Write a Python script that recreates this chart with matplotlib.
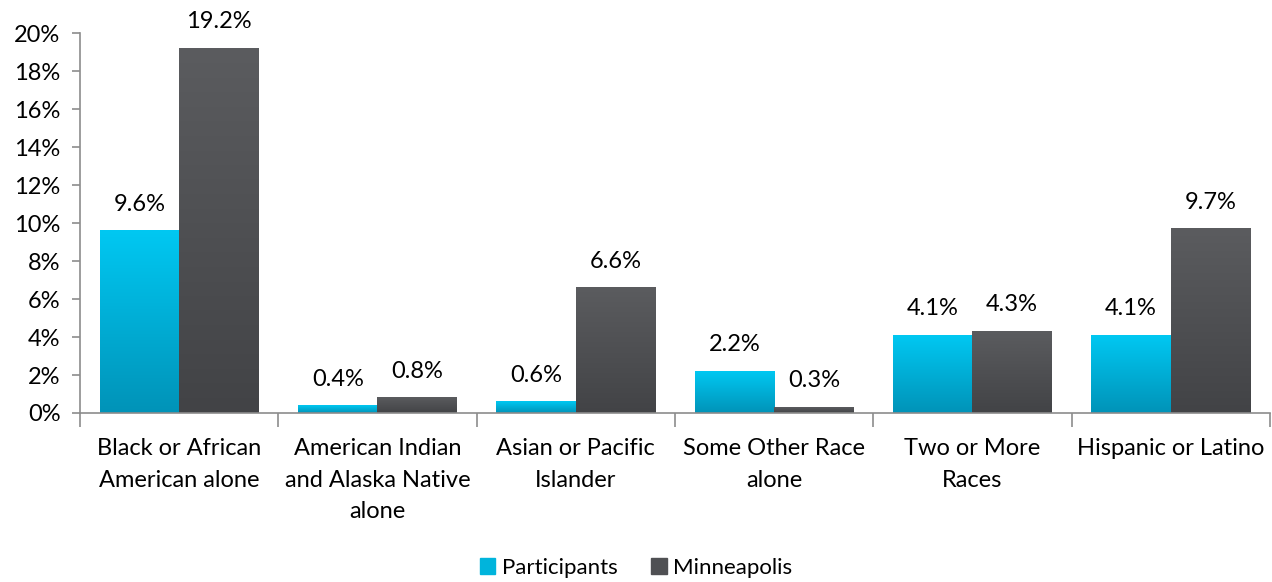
import matplotlib
matplotlib.use("Agg")
import matplotlib.pyplot as plt
import numpy as np
from matplotlib.colors import LinearSegmentedColormap
from matplotlib.patches import Patch

plt.rcParams['font.family'] = ['Lato', 'DejaVu Sans']

categories = ["Black or African\nAmerican alone", "American Indian\nand Alaska Native\nalone",
              "Asian or Pacific\nIslander", "Some Other Race\nalone", "Two or More\nRaces",
              "Hispanic or Latino"]
participants = [9.6, 0.4, 0.6, 2.2, 4.1, 4.1]
minneapolis = [19.2, 0.8, 6.6, 0.3, 4.3, 9.7]
yticks = [0, 2, 4, 6, 8, 10, 12, 14, 16, 18, 20]

cyan_cmap = LinearSegmentedColormap.from_list("cy", ["#0093B8", "#00C8F2"])
gray_cmap = LinearSegmentedColormap.from_list("gr", ["#424346", "#5B5C5F"])

fig = plt.figure(figsize=(12.72, 5.82), dpi=100)
ax = fig.add_axes([0.0629, 0.2904, 0.9355, 0.6526])

x = np.arange(len(categories))
w = 0.4
b1 = ax.bar(x - w / 2, participants, w, color="#00B4DC")
b2 = ax.bar(x + w / 2, minneapolis, w, color="#4F5053")

# vertical gradient fill for each bar
grad = np.linspace(0, 1, 256).reshape(-1, 1)
for bars, cmap in [(b1, cyan_cmap), (b2, gray_cmap)]:
    for r in bars:
        bx, bw, bh = r.get_x(), r.get_width(), r.get_height()
        ax.imshow(grad, cmap=cmap, origin="lower", aspect="auto",
                  extent=[bx, bx + bw, 0, bh], zorder=r.get_zorder() + 0.1)

for bars, vals in [(b1, participants), (b2, minneapolis)]:
    for r, v in zip(bars, vals):
        ax.annotate(f"{v:.1f}%", (r.get_x() + r.get_width() / 2, v),
                    xytext=(0, 19), textcoords="offset points",
                    ha="center", va="center", fontsize=17, color="#000000")

ax.set_xlim(-0.5, len(categories) - 0.5)
ax.set_ylim(0, 20)
ax.set_yticks(yticks)
ax.set_yticklabels([f"{t}%" for t in yticks], fontsize=17)
ax.set_xticks(np.arange(-0.5, len(categories)), minor=False)
ax.set_xticklabels([])
ax.set_xticks(x, minor=True)
ax.set_xticklabels(categories, minor=True, fontsize=17, linespacing=1.62)
ax.tick_params(axis="x", which="minor", length=0, pad=18)
ax.tick_params(axis="x", which="major", length=10, color="#8C8C8C", width=1.2)
ax.tick_params(axis="y", length=6, color="#8C8C8C", width=1.2, pad=8)

for s in ["top", "right"]:
    ax.spines[s].set_visible(False)
for s in ["left", "bottom"]:
    ax.spines[s].set_color("#8C8C8C")
    ax.spines[s].set_linewidth(1.2)

handles = [Patch(color="#00B4DC", label="Participants"), Patch(color="#4F5053", label="Minneapolis")]
fig.legend(handles=handles, loc="center", bbox_to_anchor=(0.5, 0.024), ncol=2,
           frameon=False, fontsize=16, handlelength=0.7, handleheight=0.7,
           handletextpad=0.3, columnspacing=1.5)

fig.savefig("out.png", dpi=100)
